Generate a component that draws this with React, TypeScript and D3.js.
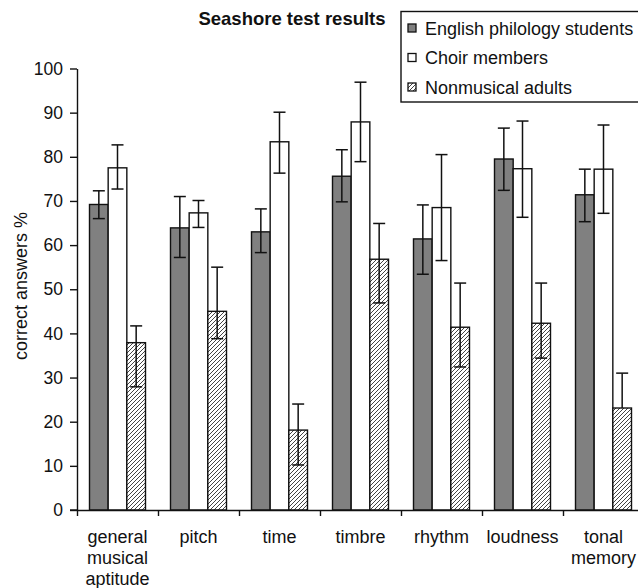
import { useEffect, useRef } from 'react'
import * as d3 from 'd3'

const categories = ['general\nmusical\naptitude', 'pitch', 'time', 'timbre', 'rhythm', 'loudness', 'tonal\nmemory']
const seriesNames = ['English philology students', 'Choir members', 'Nonmusical adults']

// means and error-bar ends (% correct answers)
const englishMeans = [69.2, 63.9, 63.0, 75.6, 61.4, 79.5, 71.4]
const englishLow = [66.0, 57.2, 58.3, 69.8, 53.4, 72.4, 65.3]
const englishHigh = [72.3, 71.0, 68.2, 81.6, 69.1, 86.5, 77.2]

const choirMeans = [77.5, 67.3, 83.4, 87.9, 68.5, 77.3, 77.2]
const choirLow = [72.7, 64.0, 76.3, 78.9, 56.5, 66.3, 67.2]
const choirHigh = [82.7, 70.1, 90.1, 96.9, 80.5, 88.1, 87.2]

const nonmusicalMeans = [37.9, 45.0, 18.1, 56.8, 41.4, 42.3, 23.1]
const nonmusicalLow = [27.9, 38.8, 10.2, 46.9, 32.4, 34.4, 23.1]
const nonmusicalHigh = [41.7, 55.0, 24.0, 64.9, 51.4, 51.4, 31.0]

const yTicks = [0, 10, 20, 30, 40, 50, 60, 70, 80, 90, 100]

const FONT = '"Liberation Sans", Arial, Helvetica, sans-serif'

export default function App() {
  const svgRef = useRef<SVGSVGElement>(null)

  useEffect(() => {
    const svg = d3.select(svgRef.current)
    svg.selectAll('*').remove()

    const series = [
      { name: seriesNames[0], means: englishMeans, low: englishLow, high: englishHigh, fill: '#808080' },
      { name: seriesNames[1], means: choirMeans, low: choirLow, high: choirHigh, fill: '#ffffff' },
      { name: seriesNames[2], means: nonmusicalMeans, low: nonmusicalLow, high: nonmusicalHigh, fill: 'url(#hatch)' },
    ]

    const defs = svg.append('defs')
    const pat = defs
      .append('pattern')
      .attr('id', 'hatch')
      .attr('patternUnits', 'userSpaceOnUse')
      .attr('width', 4)
      .attr('height', 4)
    pat.append('rect').attr('width', 4).attr('height', 4).attr('fill', '#fff')
    pat
      .append('path')
      .attr('d', 'M-1,1 l2,-2 M0,4 l4,-4 M3,5 l2,-2')
      .attr('stroke', '#444')
      .attr('stroke-width', 1)

    const x0 = d3.scaleBand().domain(categories).range([77, 644]).padding(0)
    const x1 = d3.scaleBand().domain(seriesNames).range([12.5, 68.5]).padding(0)
    const y = d3.scaleLinear().domain([0, 100]).range([510, 68.5])
    const xIdx = d3.scaleLinear().domain([0, categories.length]).range([77, 644])

    // title
    svg
      .append('text')
      .attr('x', 292)
      .attr('y', 25)
      .attr('text-anchor', 'middle')
      .style('font-family', FONT)
      .style('font-size', '18.5px')
      .style('font-weight', 'bold')
      .style('fill', '#111')
      .text('Seashore test results')

    // bars
    series.forEach((s) => {
      svg
        .append('g')
        .selectAll('rect')
        .data(categories)
        .join('rect')
        .attr('x', (c) => x0(c) + x1(s.name))
        .attr('y', (c, i) => y(s.means[i]))
        .attr('width', x1.bandwidth())
        .attr('height', (c, i) => y(0) - y(s.means[i]))
        .attr('fill', s.fill)
        .attr('stroke', '#111')
        .attr('stroke-width', 1.4)
    })

    // error bars
    const cap = 6
    series.forEach((s) => {
      const g = svg.append('g').attr('stroke', '#111').attr('stroke-width', 1.5)
      categories.forEach((c, i) => {
        const cx = x0(c) + x1(s.name) + x1.bandwidth() / 2
        g.append('line').attr('x1', cx).attr('x2', cx).attr('y1', y(s.low[i])).attr('y2', y(s.high[i]))
        g.append('line').attr('x1', cx - cap).attr('x2', cx + cap).attr('y1', y(s.high[i])).attr('y2', y(s.high[i]))
        if (s.low[i] < s.means[i]) {
          g.append('line').attr('x1', cx - cap).attr('x2', cx + cap).attr('y1', y(s.low[i])).attr('y2', y(s.low[i]))
        }
      })
    })

    // y axis
    const yAxis = svg
      .append('g')
      .attr('transform', 'translate(77,0)')
      .call(d3.axisLeft(y).tickValues(yTicks).tickSize(7).tickSizeOuter(0).tickPadding(7))
    yAxis.selectAll('path, line').attr('stroke', '#111').attr('stroke-width', 1.4)
    yAxis.selectAll('text').style('font-family', FONT).style('font-size', '17.5px').style('fill', '#111')

    // x axis, ticks on the category boundaries
    const xAxis = svg
      .append('g')
      .attr('transform', 'translate(0,510)')
      .call(
        d3
          .axisBottom(xIdx)
          .tickValues(d3.range(categories.length + 1))
          .tickSize(6)
          .tickSizeOuter(0)
          .tickFormat(() => '')
      )
    xAxis.selectAll('path, line').attr('stroke', '#111').attr('stroke-width', 1.4)
    svg.append('line').attr('x1', 70).attr('x2', 77).attr('y1', 510).attr('y2', 510).attr('stroke', '#111').attr('stroke-width', 1.4)

    // category labels
    const labels = svg
      .append('g')
      .style('font-family', FONT)
      .style('font-size', '18px')
      .style('fill', '#111')
      .attr('text-anchor', 'middle')
    categories.forEach((c) => {
      const t = labels.append('text').attr('x', x0(c) + x0.bandwidth() / 2).attr('y', 543)
      c.split('\n').forEach((line, j) => {
        t.append('tspan')
          .attr('x', x0(c) + x0.bandwidth() / 2)
          .attr('dy', j === 0 ? 0 : 21)
          .text(line)
      })
    })

    // y label
    svg
      .append('text')
      .attr('transform', 'translate(27,286) rotate(-90)')
      .attr('text-anchor', 'middle')
      .style('font-family', FONT)
      .style('font-size', '18px')
      .style('fill', '#111')
      .text('correct answers %')

    // legend
    const lg = svg.append('g')
    lg.append('rect')
      .attr('x', 401)
      .attr('y', 11.5)
      .attr('width', 260)
      .attr('height', 90.5)
      .attr('fill', '#fff')
      .attr('stroke', '#111')
      .attr('stroke-width', 1.4)
    series.forEach((s, i) => {
      const ry = 28 + i * 29.5
      lg.append('rect')
        .attr('x', 408)
        .attr('y', ry - 4)
        .attr('width', 8)
        .attr('height', 8)
        .attr('fill', s.fill)
        .attr('stroke', '#111')
        .attr('stroke-width', 1.3)
      lg.append('text')
        .attr('x', 425)
        .attr('y', ry + 6.5)
        .style('font-family', FONT)
        .style('font-size', '18px')
        .style('fill', '#111')
        .text(s.name)
    })
  }, [])

  return <svg ref={svgRef} width={638} height={588} style={{ position: 'absolute', left: 0, top: 0 }} />
}
